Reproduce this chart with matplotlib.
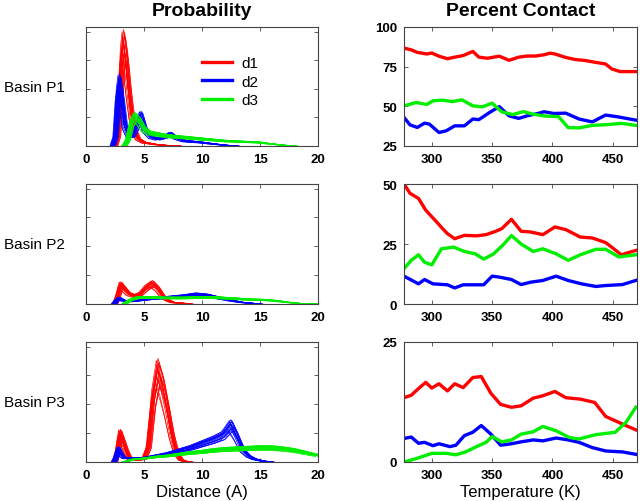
import matplotlib
matplotlib.use("Agg")
import matplotlib.pyplot as plt
from matplotlib.lines import Line2D

plt.rcParams['font.family'] = ['Liberation Sans', 'DejaVu Sans']

RED, BLUE, GREEN = '#ff0000', '#0000ff', '#00ee00'

# ---- probability distributions (base curve of each ensemble) ----
p1_d1_x = [2.5, 2.75, 2.95, 3.1, 3.25, 3.45, 3.7, 3.95, 4.2, 4.5, 5.0, 6.0, 7.0, 8.0]
p1_d1_y = [0, 0.1, 0.5, 0.85, 1.0, 0.85, 0.55, 0.3, 0.15, 0.07, 0.035, 0.015, 0.005, 0]
p1_d2_x = [2.3, 2.55, 2.75, 2.9, 3.1, 3.35, 3.7, 4.0, 4.4, 4.75, 5.1, 5.6, 6.2, 6.8,
           7.3, 7.8, 8.5, 10, 11, 12, 13]
p1_d2_y = [0, 0.1, 0.5, 0.62, 0.45, 0.2, 0.1, 0.1, 0.2, 0.3, 0.16, 0.09, 0.07, 0.09,
           0.12, 0.08, 0.05, 0.035, 0.02, 0.008, 0]
p1_d3_x = [3.3, 3.6, 3.9, 4.2, 4.6, 5.0, 5.5, 6.0, 7.0, 8.0, 10, 12, 14, 15, 16, 17, 18]
p1_d3_y = [0, 0.06, 0.22, 0.29, 0.25, 0.17, 0.13, 0.12, 0.1, 0.09, 0.07, 0.05, 0.04,
           0.035, 0.02, 0.008, 0]

p2_d1_x = [2.5, 2.75, 3.0, 3.3, 3.7, 4.2, 4.7, 5.2, 5.75, 6.2, 6.6, 7.0, 7.5, 8.0, 8.6, 9.0]
p2_d1_y = [0, 0.08, 0.19, 0.15, 0.1, 0.08, 0.1, 0.16, 0.2, 0.15, 0.08, 0.04, 0.015,
           0.01, 0.005, 0]
p2_d2_x = [2.4, 2.6, 2.85, 3.2, 3.8, 4.5, 5.5, 6.5, 7.5, 8.5, 9.5, 10.5, 11.5, 12.5,
           13.5, 14.5, 15]
p2_d2_y = [0, 0.03, 0.06, 0.035, 0.025, 0.035, 0.05, 0.06, 0.07, 0.08, 0.095, 0.085,
           0.06, 0.035, 0.015, 0.005, 0]
p2_d3_x = [3.3, 3.8, 4.5, 5.5, 7, 8.5, 10, 11, 12.5, 14, 15.5, 16.5, 17.5, 18.5, 19.5, 20]
p2_d3_y = [0, 0.04, 0.065, 0.065, 0.06, 0.06, 0.065, 0.065, 0.055, 0.045, 0.04, 0.03,
           0.015, 0.005, 0, 0]

p3_d1_x = [2.5, 2.75, 2.95, 3.2, 3.5, 3.8, 4.5, 5.0, 5.4, 5.8, 6.2, 6.6, 7.0, 7.4,
           7.8, 8.2, 8.6, 9.0]
p3_d1_y = [0, 0.12, 0.28, 0.2, 0.1, 0.03, 0.02, 0.03, 0.15, 0.62, 0.88, 0.74, 0.52,
           0.27, 0.09, 0.02, 0.005, 0]
p3_d2_x = [2.4, 2.6, 2.8, 3.0, 3.3, 4.0, 5.0, 6.0, 7.0, 8.0, 9.0, 10.0, 11.0, 11.8,
           12.5, 13.0, 13.5, 14.0, 14.5, 15.2, 16.0]
p3_d2_y = [0, 0.05, 0.13, 0.08, 0.04, 0.035, 0.04, 0.06, 0.08, 0.11, 0.14, 0.18, 0.22,
           0.26, 0.36, 0.25, 0.12, 0.06, 0.03, 0.01, 0]
p3_d3_x = [3.3, 4.0, 5.0, 6.0, 7.0, 8.0, 9.0, 10, 11, 12, 13, 14, 15, 16, 17, 18, 19, 20]
p3_d3_y = [0, 0.025, 0.035, 0.05, 0.06, 0.075, 0.09, 0.1, 0.115, 0.125, 0.13, 0.135,
           0.14, 0.14, 0.13, 0.115, 0.09, 0.065]

# per-member variation of the ensemble (height factor, shift in A)
member_scale = [0.72, 0.80, 0.88, 0.93, 0.76, 0.97, 1.00, 0.84, 0.91,
                0.99, 0.78, 0.95, 0.86, 0.82, 1.02, 0.90, 0.74, 0.96]
member_shift = [-0.20, 0.00, 0.12, -0.08, 0.20, 0.05, -0.14, 0.25, -0.03,
                0.09, -0.24, 0.16, -0.17, 0.06, 0.00, -0.06, 0.14, -0.11]

# ---- percent contact vs temperature ----
c1_d1_t = [277, 283, 288, 296, 300, 306, 313, 319, 326, 334, 339, 346, 356, 364, 372,
           379, 386, 393, 398, 402, 411, 419, 427, 435, 444, 449, 456, 469]
c1_d1_v = [86.7, 85.6, 84, 83, 83.6, 81.6, 80, 81, 82, 84.6, 81, 80.3, 81.6, 79, 81,
           81.7, 81.7, 82.5, 83.5, 83, 80.8, 79.5, 78.9, 77.8, 76.7, 73.6, 71.9, 71.9]
c1_d2_t = [277, 282, 288, 294, 298, 306, 312, 319, 327, 334, 339, 348, 356, 364, 372,
           379, 389, 393, 401, 411, 422, 433, 444, 454, 469]
c1_d2_v = [43, 38.3, 36.7, 39.4, 38.8, 33.5, 34.6, 37.7, 37.7, 42, 41.6, 46.2, 49.8,
           44, 42.4, 44, 45.7, 46.6, 45.5, 45.7, 42, 40.2, 44.5, 43.4, 41.3]
c1_d3_t = [277, 287, 296, 301, 309, 317, 325, 334, 342, 350, 358, 367, 376, 384, 394,
           405, 413, 422, 433, 446, 457, 469]
c1_d3_v = [50.3, 52.4, 51.2, 53.5, 53.9, 53, 54.1, 50.3, 49.7, 52, 46.5, 44.8, 46.7,
           45, 43.9, 43.5, 36.6, 36.4, 38, 38.5, 39.3, 38]

c2_d1_t = [277, 282, 289, 295, 304, 309, 313, 319, 327, 337, 345, 353, 358, 366, 374,
           382, 392, 402, 411, 423, 433, 444, 450, 457, 464, 469]
c2_d1_v = [50, 46.1, 44, 39.1, 34.2, 31.4, 29.3, 27.2, 28.6, 28.4, 28.9, 30.3, 31.4,
           35.3, 30.3, 30, 28.9, 32.1, 31, 27.9, 27.5, 25.6, 23.3, 20.5, 21.6, 22.3]
c2_d2_t = [277, 289, 294, 301, 313, 319, 326, 334, 343, 350, 356, 366, 374, 382, 392,
           403, 413, 424, 436, 444, 458, 469]
c2_d2_v = [11.6, 8.4, 10.2, 8.4, 8, 6.7, 8, 8, 8, 11.6, 11.2, 10.2, 8.1, 9.1, 9.8,
           11.6, 9.8, 8.4, 7.3, 7.7, 8.1, 9.8]
c2_d3_t = [277, 283, 289, 294, 300, 308, 318, 327, 336, 343, 351, 359, 366, 374, 384,
           392, 403, 413, 423, 436, 444, 455, 469]
c2_d3_v = [14.7, 18.2, 20.5, 17.4, 16.3, 23, 23.7, 21.9, 20.9, 18.7, 20.8, 24.6, 28.5,
           25, 21.9, 23, 20.9, 18.2, 20.5, 22.8, 22.8, 19.6, 20.5]

c3_d1_t = [277, 283, 289, 295, 300, 306, 313, 319, 326, 334, 341, 349, 357, 366, 374,
           384, 392, 402, 411, 423, 435, 444, 458, 469]
c3_d1_v = [13.4, 13.9, 15.3, 16.6, 15.4, 16.3, 14.8, 16.3, 15.5, 17.6, 17.8, 14.3, 12,
           11.4, 11.7, 13.3, 13.8, 14.7, 13.4, 13.1, 12.4, 9.5, 7.9, 6.7]
c3_d2_t = [277, 283, 289, 294, 301, 306, 315, 320, 327, 334, 341, 349, 357, 366, 374,
           384, 392, 403, 413, 422, 433, 444, 458, 469]
c3_d2_v = [4.9, 5.2, 3.9, 4.1, 3.4, 3.8, 3.2, 3.5, 5.5, 6.2, 7.6, 5.8, 3.5, 3.8, 4.2,
           4.6, 4.4, 5, 4.6, 4.1, 3, 2.3, 2.1, 1.6]
c3_d3_t = [277, 287, 300, 312, 320, 328, 337, 345, 350, 358, 366, 374, 384, 392, 403,
           414, 422, 436, 452, 461, 469]
c3_d3_v = [0, 0.7, 1.8, 1.8, 1.5, 2.1, 3.2, 4.1, 5.3, 4.2, 4.6, 5.8, 6.3, 7.4, 6.5,
           5.1, 4.8, 5.7, 6.2, 8.3, 11.4]

prob_panels = [
    [(p1_d1_x, p1_d1_y, RED), (p1_d2_x, p1_d2_y, BLUE), (p1_d3_x, p1_d3_y, GREEN)],
    [(p2_d1_x, p2_d1_y, RED), (p2_d2_x, p2_d2_y, BLUE), (p2_d3_x, p2_d3_y, GREEN)],
    [(p3_d1_x, p3_d1_y, RED), (p3_d2_x, p3_d2_y, BLUE), (p3_d3_x, p3_d3_y, GREEN)],
]
contact_panels = [
    [(c1_d1_t, c1_d1_v, RED), (c1_d2_t, c1_d2_v, BLUE), (c1_d3_t, c1_d3_v, GREEN)],
    [(c2_d1_t, c2_d1_v, RED), (c2_d2_t, c2_d2_v, BLUE), (c2_d3_t, c2_d3_v, GREEN)],
    [(c3_d1_t, c3_d1_v, RED), (c3_d2_t, c3_d2_v, BLUE), (c3_d3_t, c3_d3_v, GREEN)],
]
contact_ylim = [(25, 100), (0, 50), (0, 25)]
contact_yticks = [[25, 50, 75, 100], [0, 25, 50], [0, 25]]
row_labels = ['Basin P1', 'Basin P2', 'Basin P3']

W, H = 640, 502
rows_px = [(28, 147), (185, 305), (343, 463)]
left_px = (86, 318)
right_px = (404, 637)

fig = plt.figure(figsize=(W / 100, H / 100), dpi=100)


def px_axes(xr, yr):
    return fig.add_axes([xr[0] / W, 1 - yr[1] / H, (xr[1] - xr[0]) / W, (yr[1] - yr[0]) / H])


def style(ax):
    for s in ax.spines.values():
        s.set_color('#444444')
        s.set_linewidth(0.8)
    ax.tick_params(direction='in', length=3, width=0.6, color='#444444',
                   top=True, right=True, labelsize=9.5, pad=5)
    for lab in ax.get_xticklabels() + ax.get_yticklabels():
        lab.set_fontweight('bold')


for i, yr in enumerate(rows_px):
    ax = px_axes(left_px, yr)
    for xs, ys, col in prob_panels[i]:
        for sc, sh in zip(member_scale, member_shift):
            ax.plot([x + sh for x in xs], [y * sc for y in ys], color=col, lw=0.5)
    ax.set_xlim(0, 20)
    ax.set_ylim(0, 1.04)
    ax.set_xticks([0, 5, 10, 15, 20])
    ax.set_yticks([0.25, 0.5, 0.75, 1.0])
    ax.set_yticklabels([])
    style(ax)
    fig.text(4 / W, 1 - (yr[0] + yr[1]) / 2 / H, row_labels[i], fontsize=11,
             ha='left', va='center')

    ax2 = px_axes(right_px, yr)
    for ts, vs, col in contact_panels[i]:
        ax2.plot(ts, vs, color=col, lw=2.4, solid_joinstyle='round')
    ax2.set_xlim(277, 470)
    ax2.set_ylim(*contact_ylim[i])
    ax2.set_xticks([300, 350, 400, 450])
    ax2.set_yticks(contact_yticks[i])
    style(ax2)

    if i == 0:
        handles = [Line2D([], [], color=c, lw=2.4) for c in (RED, BLUE, GREEN)]
        ax.legend(handles, ['d1', 'd2', 'd3'], loc='upper left',
                  bbox_to_anchor=(0.44, 0.87), frameon=False, fontsize=11,
                  handlelength=2.0, handletextpad=0.6, labelspacing=0.3)
    if i == 2:
        ax.set_xlabel('Distance (A)', fontsize=12, labelpad=2)
        ax2.set_xlabel('Temperature (K)', fontsize=12, labelpad=2)

fig.text((left_px[0] + left_px[1]) / 2 / W, 1 - 12 / H, 'Probability',
         fontsize=14, fontweight='bold', ha='center', va='center')
fig.text((right_px[0] + right_px[1]) / 2 / W, 1 - 12 / H, 'Percent Contact',
         fontsize=14, fontweight='bold', ha='center', va='center')

fig.savefig('out.png', dpi=100)
